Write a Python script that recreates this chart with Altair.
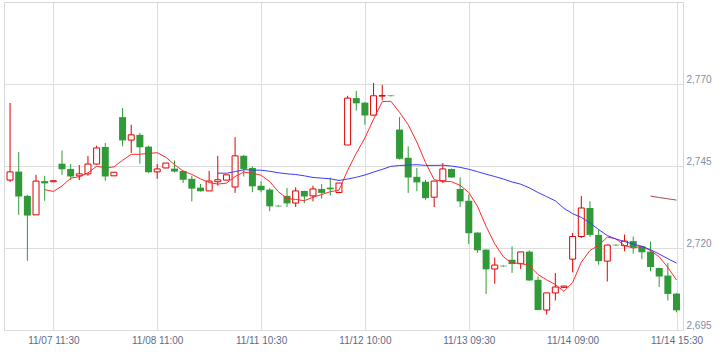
import altair as alt
import pandas as pd

# 30-minute candles, 11/07 09:00 ... 11/14 15:30 (13 bars per session)
open_ = [2740.7, 2743.3, 2735.9, 2730.1, 2740.4, 2740.2, 2745.7, 2744.1, 2742.0, 2742.6,
         2745.6, 2750.8, 2742.0, 2759.9, 2752.9, 2754.5, 2750.9, 2743.2, 2744.4, 2744.2,
         2743.5, 2741.1, 2738.4, 2737.4, 2740.2, 2740.7, 2738.6, 2748.1, 2744.4, 2739.0,
         2737.8, 2732.9, 2735.9, 2733.7, 2737.4, 2735.9, 2738.0, 2738.4, 2736.9, 2751.4,
         2765.7, 2764.3, 2760.5, 2766.3, 2766.5, 2756.1, 2747.5, 2741.7, 2740.2, 2735.5,
         2740.5, 2744.1, 2738.0, 2734.4, 2724.7, 2719.5, 2713.6, 2714.6, 2716.4, 2715.2,
         2718.9, 2710.3, 2701.1, 2706.3, 2708.0, 2716.6, 2723.5, 2732.2, 2724.0, 2716.0,
         2721.0, 2720.7, 2722.1, 2720.5, 2718.9, 2713.9, 2711.6, 2706.1]
high = [2764.2, 2749.3, 2736.2, 2742.3, 2742.0, 2740.5, 2749.7, 2745.6, 2745.3, 2748.1,
        2751.2, 2752.0, 2743.1, 2762.7, 2757.6, 2755.1, 2751.2, 2745.6, 2745.9, 2746.7,
        2743.6, 2742.0, 2739.5, 2743.5, 2748.1, 2742.3, 2753.8, 2748.4, 2744.9, 2740.3,
        2738.2, 2733.0, 2738.3, 2738.5, 2737.5, 2739.0, 2739.5, 2741.5, 2739.8, 2766.4,
        2767.9, 2764.5, 2770.3, 2769.7, 2766.6, 2759.9, 2751.0, 2744.4, 2740.8, 2740.4,
        2745.9, 2744.2, 2741.5, 2736.3, 2724.8, 2719.6, 2717.1, 2714.7, 2720.5, 2718.8,
        2719.3, 2711.3, 2706.3, 2712.4, 2708.5, 2724.6, 2735.9, 2734.3, 2725.6, 2721.0,
        2721.1, 2724.1, 2723.5, 2720.6, 2722.0, 2714.0, 2715.4, 2706.2]
low = [2740.1, 2730.1, 2716.1, 2730.1, 2734.4, 2740.1, 2742.3, 2740.7, 2740.7, 2742.0,
       2745.4, 2740.5, 2742.0, 2751.0, 2749.0, 2745.7, 2742.9, 2741.1, 2744.4, 2743.0,
       2739.8, 2734.2, 2737.2, 2737.4, 2739.0, 2740.7, 2736.8, 2741.8, 2737.0, 2737.0,
       2731.2, 2732.6, 2732.5, 2732.5, 2733.7, 2734.2, 2735.0, 2736.0, 2736.9, 2751.4,
       2761.9, 2757.6, 2760.5, 2765.0, 2766.2, 2747.0, 2736.8, 2737.3, 2734.7, 2732.5,
       2739.8, 2741.4, 2732.5, 2721.2, 2718.5, 2706.0, 2709.1, 2714.3, 2712.4, 2713.6,
       2710.0, 2701.0, 2699.7, 2704.0, 2707.9, 2712.6, 2723.0, 2723.4, 2714.9, 2709.8,
       2720.7, 2719.0, 2718.3, 2716.6, 2712.9, 2708.1, 2704.0, 2700.4]
close = [2743.2, 2735.7, 2729.9, 2740.4, 2739.7, 2740.5, 2744.0, 2741.8, 2742.6, 2745.6,
         2750.5, 2741.8, 2743.1, 2752.8, 2754.5, 2750.7, 2743.1, 2744.1, 2745.9, 2743.3,
         2740.8, 2738.1, 2737.3, 2740.4, 2740.8, 2742.3, 2748.1, 2744.1, 2738.8, 2737.6,
         2732.7, 2732.7, 2733.6, 2737.4, 2735.7, 2738.0, 2736.8, 2737.9, 2739.8, 2765.7,
         2764.1, 2760.4, 2766.4, 2766.5, 2766.3, 2747.2, 2741.5, 2740.0, 2735.2, 2740.4,
         2744.1, 2741.5, 2734.2, 2724.5, 2719.3, 2713.5, 2714.8, 2714.4, 2715.1, 2718.8,
         2710.1, 2701.1, 2706.3, 2708.1, 2708.4, 2723.5, 2732.2, 2724.0, 2716.0, 2720.9,
         2720.8, 2722.1, 2720.2, 2718.7, 2714.2, 2711.3, 2706.0, 2701.0]

tick_pos = [5, 17, 29, 41, 53, 65, 77]
tick_labels = ["11/07 11:30", "11/08 11:00", "11/11 10:30", "11/12 10:00",
               "11/13 09:30", "11/14 09:00", "11/14 15:30"]
y_ticks = [2695, 2720, 2745, 2770]

RED = "#e00000"
GREEN = "#2f9a37"

df = pd.DataFrame({"i": list(range(len(close))), "open": open_, "high": high,
                   "low": low, "close": close})
df["dir"] = ["up" if c >= o else "down" for o, c in zip(open_, close)]

label_expr = "[" + ",".join("'%s'" % t for t in tick_labels) + "][indexof([" + \
    ",".join(str(p) for p in tick_pos) + "], datum.value)]"

xenc = alt.X("i:Q", scale=alt.Scale(domain=[-0.7, 77.75], nice=False, zero=False, padding=0),
             axis=alt.Axis(values=tick_pos, labelExpr=label_expr, grid=True,
                           gridColor="#dddddd", ticks=False, domain=False,
                           labelPadding=5, labelFlush=False, labelOverlap=False,
                           labelFont="Liberation Sans", labelFontSize=10,
                           labelColor="#5c6b88", title=None))
yscale = alt.Scale(domain=[2695, 2795], nice=False, zero=False, padding=0)
yaxis = alt.Axis(values=y_ticks, orient="right", format=",d", grid=True,
                 gridColor="#dddddd", ticks=False, domain=False, labelPadding=3,
                 labelBaseline="bottom", labelFont="Liberation Sans", labelFontSize=10,
                 labelColor="#8090a8", labelOverlap=False, title=None)

base = alt.Chart(df)

wicks = base.mark_rule(strokeWidth=1).encode(
    x=xenc,
    y=alt.Y("low:Q", scale=yscale, axis=yaxis),
    y2="high:Q",
    color=alt.Color("dir:N", scale=alt.Scale(domain=["up", "down"], range=[RED, GREEN]),
                    legend=None),
)

down_bodies = base.transform_filter("datum.dir == 'down'").mark_bar(
    size=7, color=GREEN).encode(
    x=xenc, y=alt.Y("open:Q", scale=yscale, axis=yaxis), y2="close:Q")

up_bodies = base.transform_filter("datum.dir == 'up'").mark_bar(
    size=6, fill="white", stroke=RED, strokeWidth=1).encode(
    x=xenc, y=alt.Y("open:Q", scale=yscale, axis=yaxis), y2="close:Q")


def ma_line(n, color, width=1.0):
    return base.transform_window(
        ma="mean(close)", cnt="count()", frame=[-(n - 1), 0], sort=[{"field": "i"}]
    ).transform_filter("datum.cnt == %d" % n).mark_line(
        color=color, strokeWidth=width).encode(
        x=xenc, y=alt.Y("ma:Q", scale=yscale, axis=yaxis))


chart = alt.layer(
    wicks, down_bodies, up_bodies,
    ma_line(5, "#ff2a2a"), ma_line(25, "#3a3aff"), ma_line(75, "#a84a4a"),
).properties(
    width=679, height=328,
    padding={"left": 4, "top": 2, "right": 0, "bottom": 0},
    background="white",
).configure_view(stroke="#d6d6d6", strokeWidth=1)

chart.save("out.html", embed_options={"renderer": "svg", "actions": False})
